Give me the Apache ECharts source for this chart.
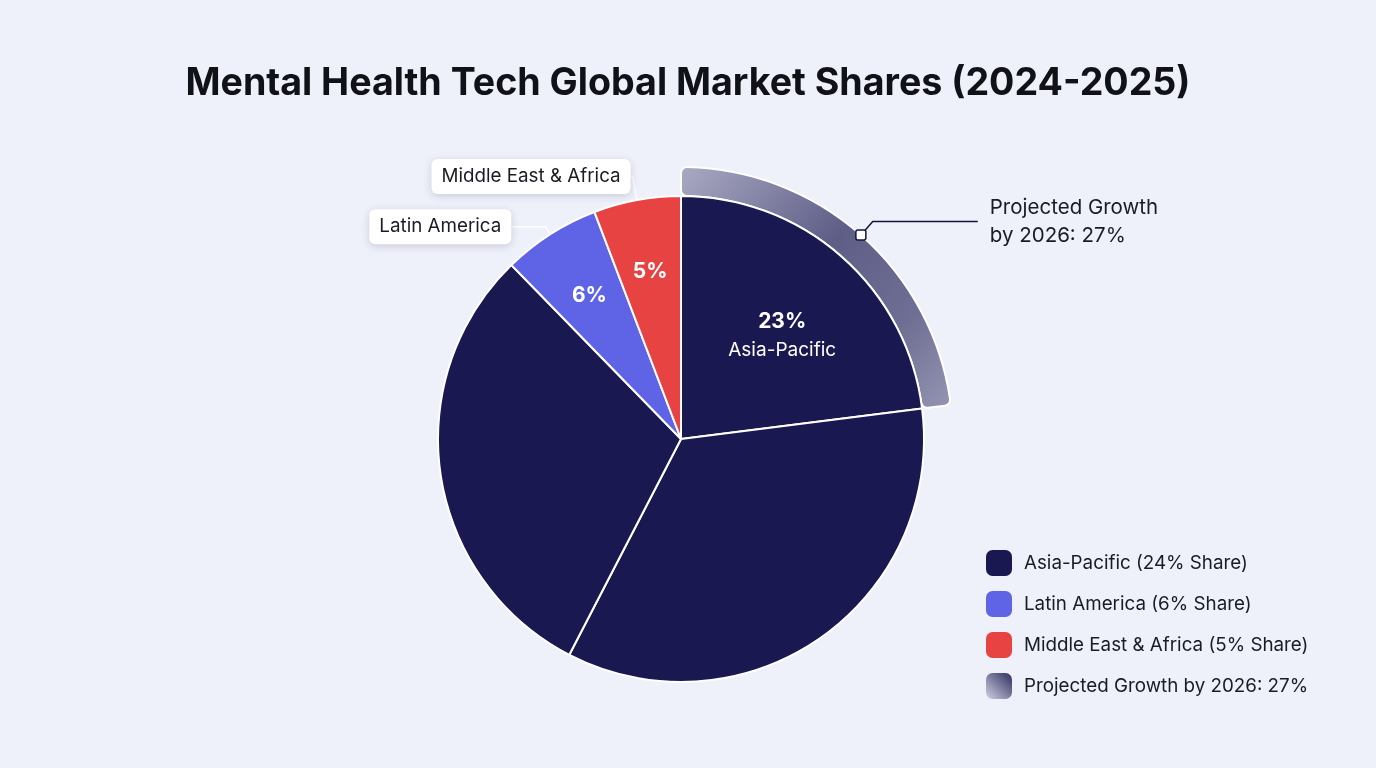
<!DOCTYPE html>
<html lang="en">
<head>
    <meta charset="UTF-8">
    <title>Mental Health Tech Global Market Shares</title>
    <script src="https://cdn.jsdelivr.net/npm/echarts@6/dist/echarts.min.js"></script>
    <style>
        * {
            margin: 0;
            padding: 0
        }

        html, body {
            width: 100%;
            height: 100%;
            background: #eef0fa;
        }
    </style>
</head>
<body>
<div id="main" style="width: 1376px;height:768px;"></div>
<script type="text/javascript">
    // data (shares in %, slice order clockwise from 12 o'clock)
    var regions = ['Asia-Pacific', 'North America', 'Europe', 'Latin America', 'Middle East & Africa'];
    var shares = [23, 34.6, 30.1, 6.5, 5.8];
    var shareLabels = ['23%', '', '', '6%', '5%'];
    var calloutRegions = ['Latin America', 'Middle East & Africa'];
    var growthName = 'Projected Growth';
    var growthLabel = 'Projected Growth\nby 2026: 27%';
    var legendNames = ['Asia-Pacific', 'Latin America', 'Middle East & Africa', 'Projected Growth'];
    var legendLabels = ['Asia-Pacific (24% Share)', 'Latin America (6% Share)',
        'Middle East & Africa (5% Share)', 'Projected Growth by 2026: 27%'];

    var FONT = 'Inter, "Noto Sans", sans-serif';
    var NAVY = '#1a1850';
    var colors = {
        'Asia-Pacific': NAVY,
        'North America': NAVY,
        'Europe': NAVY,
        'Latin America': '#5f64e6',
        'Middle East & Africa': '#e84343'
    };
    var CENTER = [681, 439];
    var R = 243;
    var total = shares.reduce(function (a, b) { return a + b; }, 0);

    var growthFill = new echarts.graphic.LinearGradient(0, 0, 1, 1, [
        {offset: 0, color: 'rgba(26,24,80,0.32)'},
        {offset: 0.45, color: 'rgba(26,24,80,0.68)'},
        {offset: 0.75, color: 'rgba(26,24,80,0.6)'},
        {offset: 1, color: 'rgba(26,24,80,0.42)'}
    ]);
    var growthIcon = new echarts.graphic.LinearGradient(0, 1, 1, 0, [
        {offset: 0, color: 'rgba(26,24,80,0.15)'},
        {offset: 1, color: 'rgba(26,24,80,0.9)'}
    ]);

    var myChart = echarts.init(document.getElementById('main'));

    // 透明叠加层只用来放标签
    function ghost(i) {
        return {name: regions[i], value: shares[i], itemStyle: {color: 'rgba(0,0,0,0)', borderWidth: 0}};
    }

    var option = {
        backgroundColor: '#eef0fa',
        animation: false,
        title: {
            text: 'Mental Health Tech Global Market Shares (2024-2025)',
            left: 'center',
            top: 60,
            textStyle: {fontFamily: FONT, fontSize: 37.6, fontWeight: 700, color: '#111118'}
        },
        legend: {
            orient: 'vertical',
            left: 981,
            top: 545,
            itemWidth: 26,
            itemHeight: 26,
            itemGap: 15,
            icon: 'roundRect',
            selectedMode: false,
            itemStyle: {borderWidth: 0},
            textStyle: {fontFamily: FONT, fontSize: 18.8, color: '#1b1b24', padding: [0, 0, 0, 7]},
            data: legendNames.map(function (n) {
                var d = {name: n};
                if (n === growthName) d.itemStyle = {color: growthIcon, borderWidth: 0};
                return d;
            }),
            formatter: function (n) {
                return legendLabels[legendNames.indexOf(n)];
            }
        },
        series: [
            {
                // projected growth band around the Asia-Pacific slice
                type: 'pie',
                center: CENTER,
                radius: [R, 272],
                startAngle: 90,
                silent: true,
                avoidLabelOverlap: false,
                data: [
                    {
                        name: growthName, value: shares[0],
                        itemStyle: {color: growthFill, borderColor: '#fff', borderWidth: 2, borderRadius: 6},
                        label: {
                            show: true,
                            position: 'outside',
                            formatter: growthLabel,
                            fontFamily: FONT, fontSize: 20.5, lineHeight: 28, color: '#1b1b24',
                            distanceToLabelLine: 12
                        },
                        labelLine: {show: true, length: 18, length2: 105, lineStyle: {color: '#15143a', width: 1.5}}
                    },
                    {name: '', value: total - shares[0], itemStyle: {color: 'rgba(0,0,0,0)', borderWidth: 0}, label: {show: false}, labelLine: {show: false}}
                ]
            },
            {
                type: 'pie',
                center: CENTER,
                radius: R,
                startAngle: 90,
                silent: true,
                label: {show: false},
                labelLine: {show: false},
                itemStyle: {borderColor: '#fff', borderWidth: 2},
                data: regions.map(function (r, i) {
                    return {name: r, value: shares[i], itemStyle: {color: colors[r]}};
                })
            },
            {
                // Asia-Pacific label inside
                type: 'pie',
                center: CENTER,
                radius: 300,
                startAngle: 90,
                silent: true,
                data: regions.map(function (r, i) {
                    var d = ghost(i);
                    d.label = {
                        show: i === 0,
                        position: 'inside',
                        padding: [22, 0, 0, 0],
                        formatter: '{p|' + shareLabels[i] + '}\n{n|' + r + '}',
                        rich: {
                            p: {fontFamily: FONT, fontSize: 21, fontWeight: 700, color: '#fff', lineHeight: 30},
                            n: {fontFamily: FONT, fontSize: 19, color: '#fff', lineHeight: 28}
                        }
                    };
                    return d;
                })
            },
            {
                // small slice percentages
                type: 'pie',
                center: CENTER,
                radius: 334,
                startAngle: 90,
                silent: true,
                data: regions.map(function (r, i) {
                    var d = ghost(i);
                    d.label = {
                        show: calloutRegions.indexOf(r) >= 0,
                        position: 'inside',
                        padding: [10, 0, 0, 0],
                        formatter: shareLabels[i],
                        fontFamily: FONT, fontSize: 21, fontWeight: 700, color: '#fff'
                    };
                    return d;
                })
            },
            {
                // callout boxes for the small slices
                type: 'pie',
                center: CENTER,
                radius: R,
                startAngle: 90,
                silent: true,
                avoidLabelOverlap: false,
                data: regions.map(function (r, i) {
                    var d = ghost(i);
                    var on = calloutRegions.indexOf(r) >= 0;
                    var mea = r === 'Middle East & Africa';
                    d.label = {
                        show: on,
                        position: 'outside',
                        formatter: r,
                        fontFamily: FONT, fontSize: 18.8, color: '#1b1b24',
                        backgroundColor: '#fff',
                        borderRadius: 6,
                        padding: [8, 10],
                        shadowColor: 'rgba(30,30,80,0.18)',
                        shadowBlur: 8,
                        shadowOffsetY: 2,
                        distanceToLabelLine: 0
                    };
                    d.labelLine = {
                        show: on,
                        length: mea ? 24 : 9,
                        length2: mea ? 2 : 34,
                        lineStyle: {color: '#ffffff', width: 1.5}
                    };
                    return d;
                })
            }
        ]
    };

    myChart.setOption(option);

    // marker where the growth callout line leaves the band
    var lay = myChart.getModel().getSeriesByIndex(0).getData().getItemLayout(0);
    if (lay) {
        var mid = (lay.startAngle + lay.endAngle) / 2;
        var mx = lay.cx + lay.r * Math.cos(mid);
        var my = lay.cy + lay.r * Math.sin(mid);
        myChart.setOption({
            graphic: [{
                type: 'rect',
                x: mx, y: my,
                shape: {x: -5, y: -5, width: 10, height: 10, r: 2},
                style: {fill: '#fff', stroke: '#15143a', lineWidth: 1.5},
                z: 100
            }]
        });
    }
</script>
</body>
</html>
